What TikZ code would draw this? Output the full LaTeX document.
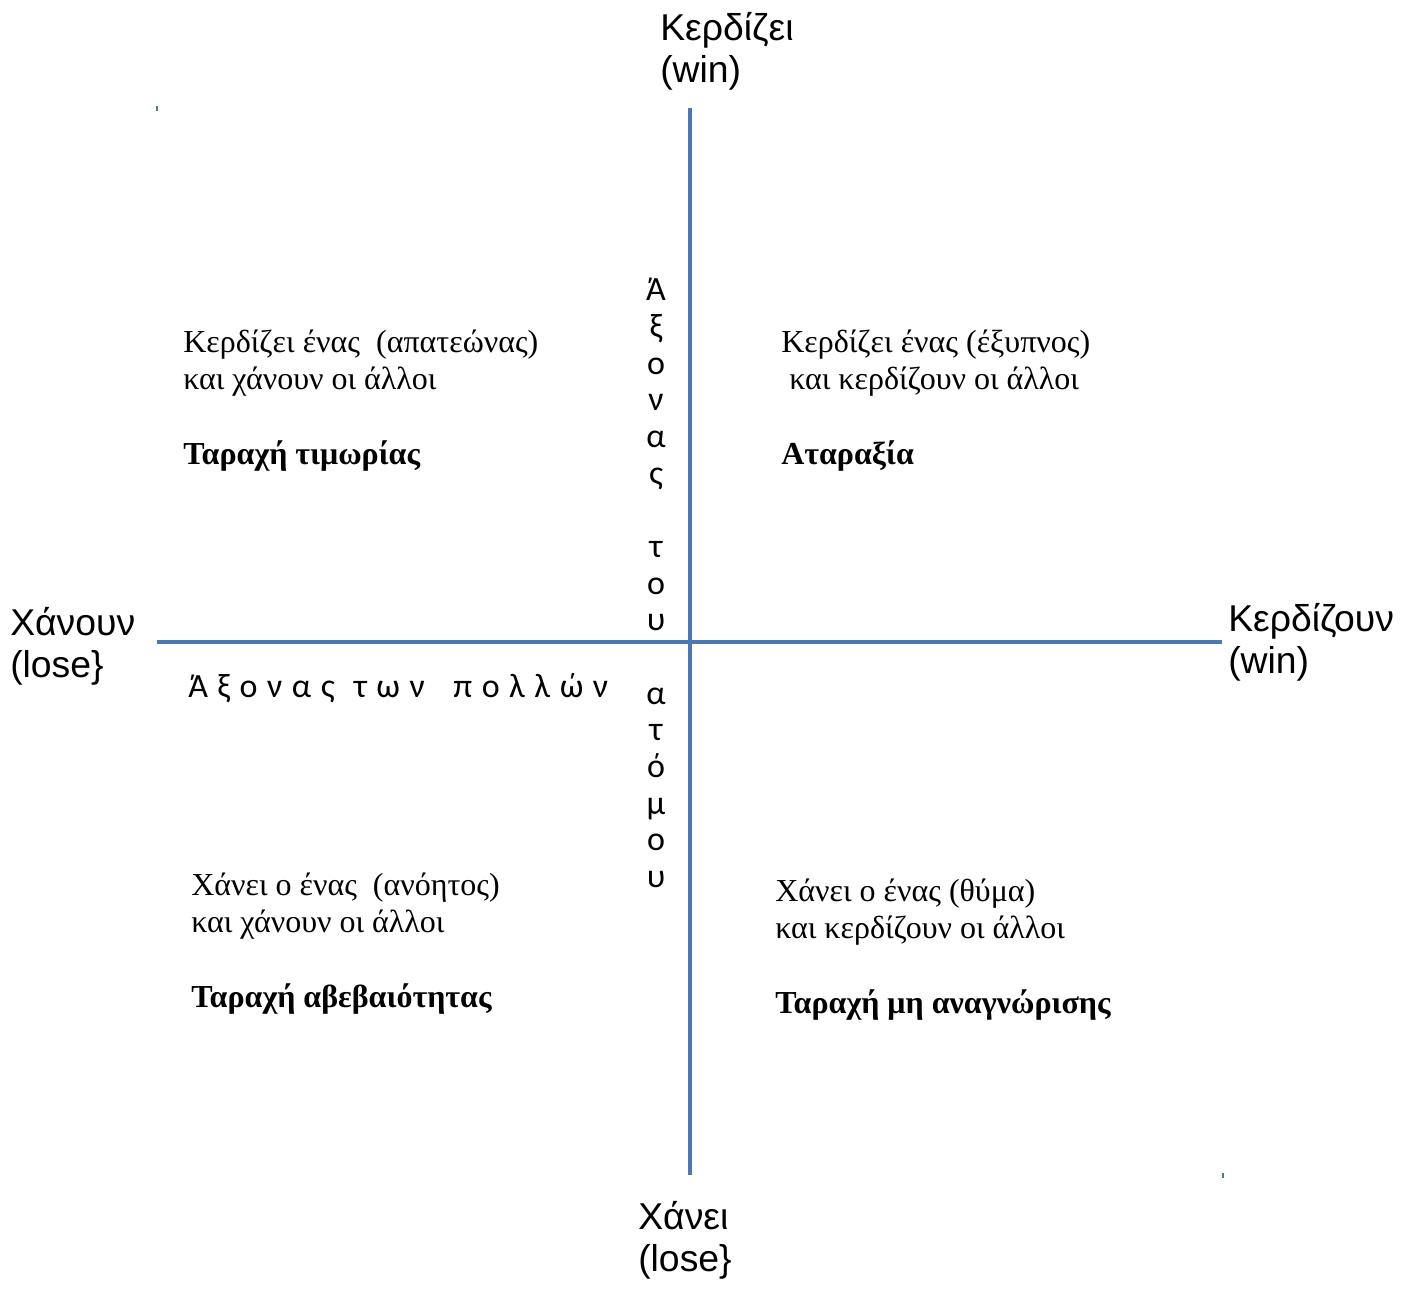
\documentclass[tikz,border=0pt]{standalone}
\usepackage{fontspec}
\setmainfont{Liberation Serif}
\newfontfamily\axisfont{Liberation Sans}
\newfontfamily\calfont{Carlito}
\usetikzlibrary{positioning}
\definecolor{axisblue}{RGB}{74,120,182}
\newcommand\widegaps{\spaceskip=0.28em\relax}

\begin{document}
\begin{tikzpicture}[x=0.75pt,y=0.75pt,yscale=-1,
  axisline/.style={draw=axisblue,line width=3pt},
  cornermark/.style={draw=axisblue,line width=1.2pt},
  endlabel/.style={anchor=north west,inner sep=0pt,align=left,font=\axisfont\fontsize{28pt}{31.5pt}\selectfont},
  quadtext/.style={anchor=north west,inner sep=0pt,align=left,font=\fontsize{24pt}{27.75pt}\selectfont},
  quadtitle/.style={inner sep=0pt,font=\bfseries\fontsize{24pt}{27.75pt}\selectfont},
  axisname/.style={inner sep=0pt,font=\calfont\fontsize{25.5pt}{27.5pt}\selectfont}]

\useasboundingbox (0,0) rectangle (1410,1293);

%Axes
\coordinate (top) at (690,108);
\coordinate (bottom) at (690,1175);
\coordinate (left) at (157,642);
\coordinate (right) at (1222,642);
\draw [axisline] (left) -- (right);
\draw [axisline] (top) -- (bottom);
%corner marks of the axes group
\coordinate (tlmark) at (157,106);
\coordinate (brmark) at (1223,1173);
\draw [cornermark] (tlmark) -- ++(0,5);
\draw [cornermark] (brmark) -- ++(0,5);

% Text Node
\node [endlabel] (winone) at (660,12) {Κερδίζει\\(win)};
% Text Node
\node [endlabel] (loseone) at (638,1201) {Χάνει\\(lose\}};
% Text Node
\node [endlabel] (losemany) at (10,607) {Χάνουν\\(lose\}};
% Text Node
\node [endlabel] (winmany) at (1228,603) {Κερδίζουν\\(win)};

% Text Node
\node [axisname,anchor=north,align=center] (oneaxis) at (656,278)
  {Ά\\ξ\\ο\\ν\\α\\ς\\ \\τ\\ο\\υ\\ \\α\\τ\\ό\\μ\\ο\\υ};
% Text Node
\node [axisname,anchor=base west] (manyaxis) at (188,697)
  {\widegaps Ά ξ ο ν α ς \ τ ω ν \ \ π ο λ λ ώ ν};

% Text Node
\node [quadtext] (cheater) at (183,330) {Κερδίζει ένας \ (απατεώνας)\\και χάνουν οι άλλοι};
\node [quadtitle,below=44 of cheater.south west,anchor=north west] (punish) {Ταραχή τιμωρίας};
% Text Node
\node [quadtext] (clever) at (781,330) {Κερδίζει ένας (έξυπνος)\\\ και κερδίζουν οι άλλοι};
\node [quadtitle,below=44 of clever.south west,anchor=north west] (calm) {Αταραξία};
% Text Node
\node [quadtext] (fool) at (191,873) {Χάνει ο ένας \ (ανόητος)\\και χάνουν οι άλλοι};
\node [quadtitle,below=44 of fool.south west,anchor=north west] (doubt) {Ταραχή αβεβαιότητας};
% Text Node
\node [quadtext] (victim) at (775,879) {Χάνει ο ένας (θύμα)\\και κερδίζουν οι άλλοι};
\node [quadtitle,below=44 of victim.south west,anchor=north west] (unknown) {Ταραχή μη αναγνώρισης};
\end{tikzpicture}
\end{document}
